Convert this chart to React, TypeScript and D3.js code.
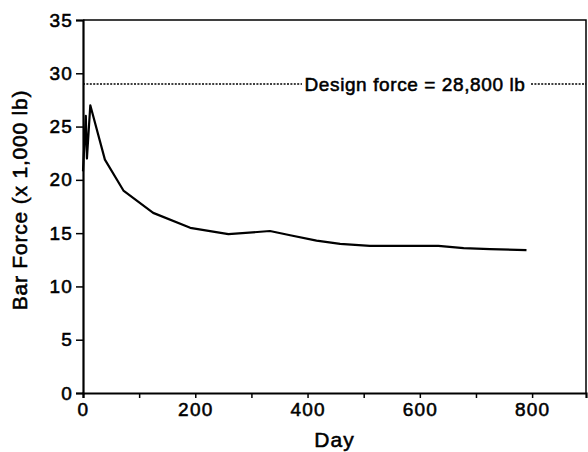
import * as d3 from "d3";
import React, { useEffect, useRef } from "react";

// bar force readings
const days = [0, 5, 7, 13, 39, 72, 125, 191, 259, 333, 369, 416, 458, 511, 562, 633, 678, 725, 790];
const force = [20.8, 26.0, 22.0, 27.0, 21.9, 19.0, 16.9, 15.5, 14.9, 15.2, 14.8, 14.3, 14.0, 13.8, 13.8, 13.8, 13.6, 13.5, 13.4];

const yTicks = [0, 5, 10, 15, 20, 25, 30, 35];
const xTicks = [0, 100, 200, 300, 400, 500, 600, 700, 800, 900];
const xLabels = [0, 200, 400, 600, 800];
const designForce = 29.0;
const designLabel = "Design force = 28,800 lb";

const W = 588;
const H = 452;
const FONT = "'Liberation Sans', Arial, Helvetica, sans-serif";

// scanned Helvetica look: regular face, slightly thickened and spaced
const styleText = (sel: any, size: number, spacing: number) =>
  sel
    .attr("font-family", FONT)
    .attr("font-size", size)
    .attr("letter-spacing", spacing)
    .attr("fill", "#000")
    .attr("stroke", "#000")
    .attr("stroke-width", 0.55);

const App = () => {
  const ref = useRef<SVGSVGElement>(null);

  useEffect(() => {
    const svg = d3.select(ref.current);
    svg.selectAll("*").remove();

    const left = 83, top = 20, right = 586, bottom = 393;

    const x = d3.scaleLinear().domain([0, 896]).range([left, right]);
    const y = d3.scaleLinear().domain([0, 35]).range([bottom, top]);

    // frame top + right
    svg.append("path")
      .attr("d", `M${left},${top}H${right}V${bottom}`)
      .attr("fill", "none")
      .attr("stroke", "#000")
      .attr("stroke-width", 1.5);

    // y axis
    const gy = svg.append("g")
      .attr("transform", `translate(${left},0)`)
      .call(d3.axisLeft(y).tickValues(yTicks).tickSize(7).tickPadding(3).tickFormat(d3.format("d")));
    gy.select(".domain").attr("stroke-width", 2.2);
    gy.selectAll(".tick line").attr("stroke-width", 1.5);
    styleText(gy.selectAll(".tick text"), 19, 1.2);

    // x axis
    const gx = svg.append("g")
      .attr("transform", `translate(0,${bottom})`)
      .call(
        d3.axisBottom(x)
          .tickValues(xTicks)
          .tickSize(5)
          .tickPadding(5)
          .tickFormat((d) => (xLabels.includes(+d) ? String(d) : ""))
      );
    gx.select(".domain").attr("stroke-width", 2.2);
    gx.selectAll(".tick line").attr("stroke-width", 1.5);
    styleText(gx.selectAll(".tick text"), 19, 1.2);

    // design force line, broken around its label
    const yd = y(designForce);
    const textL = 304, textR = 526;
    svg.append("path")
      .attr("d", `M${left},${yd}H${textL - 2}M${textR + 5},${yd}H${right}`)
      .attr("stroke", "#000")
      .attr("stroke-width", 1.6)
      .attr("stroke-dasharray", "2,1.4");
    styleText(
      svg.append("text")
        .attr("x", (textL + textR) / 2)
        .attr("y", yd + 7)
        .attr("text-anchor", "middle"),
      19, 0.6
    ).text(designLabel);

    // data line
    const pts = days.map((d, i) => [d, force[i]] as [number, number]);
    svg.append("path")
      .datum(pts)
      .attr("fill", "none")
      .attr("stroke", "#000")
      .attr("stroke-width", 2.2)
      .attr("stroke-linejoin", "round")
      .attr("d", d3.line().x((d) => x(d[0])).y((d) => y(d[1])));

    // axis titles
    styleText(
      svg.append("text")
        .attr("x", (left + right) / 2)
        .attr("y", 447)
        .attr("text-anchor", "middle"),
      21, 1
    ).text("Day");

    styleText(
      svg.append("text")
        .attr("transform", `translate(27,200) rotate(-90)`)
        .attr("text-anchor", "middle"),
      21, 0.8
    ).text("Bar Force (x 1,000 lb)");
  }, []);

  return (
    <svg
      ref={ref}
      width={W}
      height={H}
      style={{ position: "absolute", left: 0, top: 0, background: "#fff" }}
    />
  );
};

export default App;
